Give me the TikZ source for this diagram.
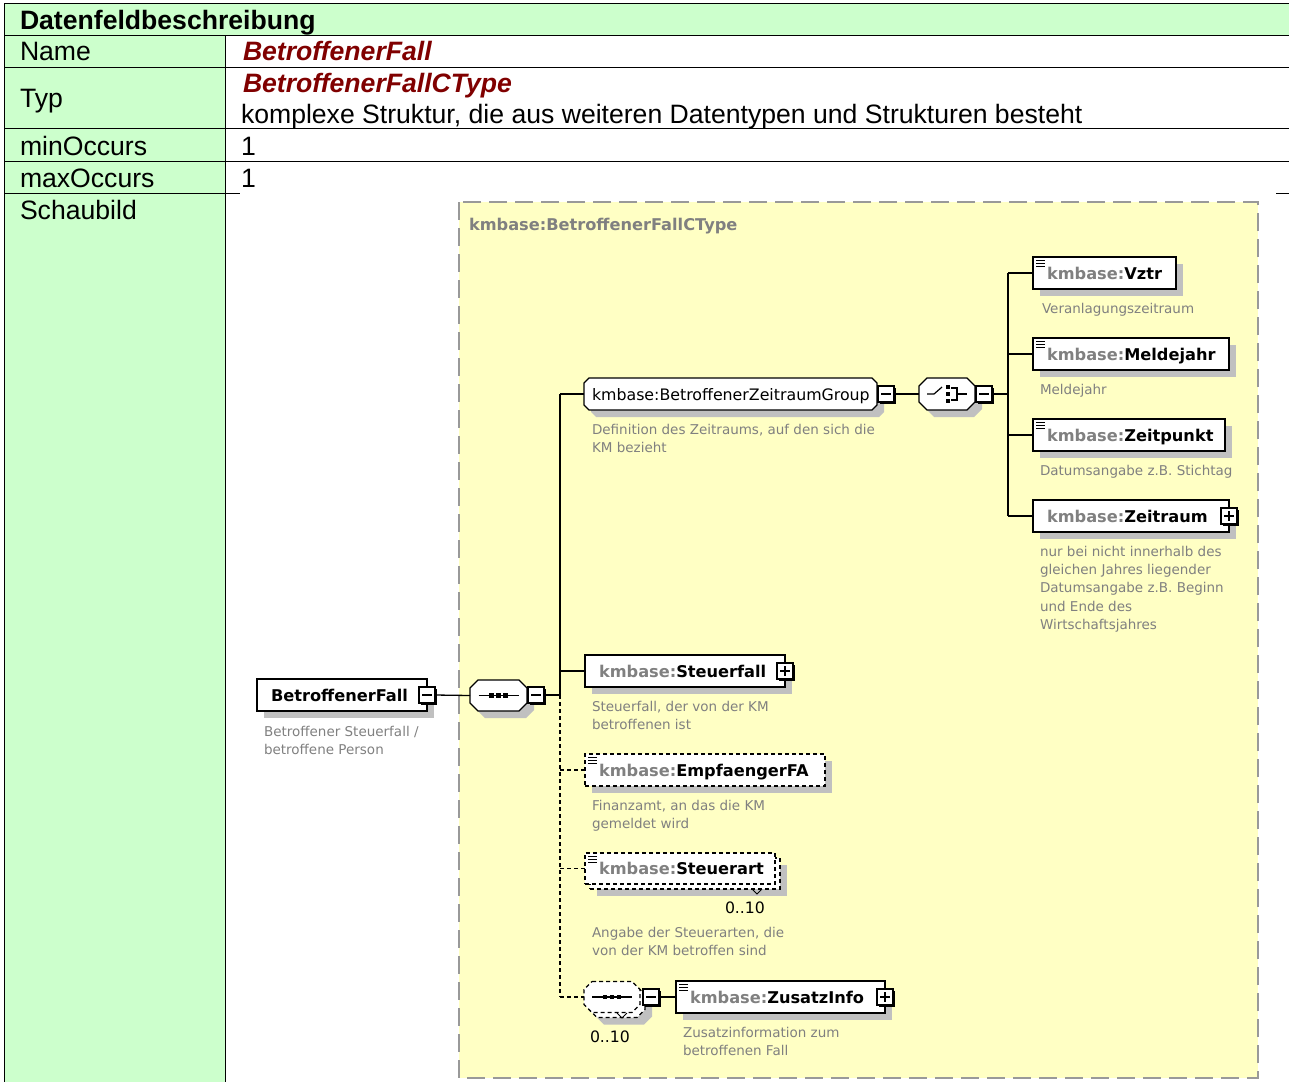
\documentclass[tikz,border=0pt]{standalone}
\usepackage{fontspec}
\setmainfont{Liberation Sans}
\newfontfamily\xsfont{DejaVu Sans}
\definecolor{tgreen}{HTML}{CCFFCC}
\definecolor{tyellow}{HTML}{FFFFC4}
\definecolor{tred}{HTML}{800000}
\definecolor{tgray}{HTML}{808080}
\definecolor{tshadow}{HTML}{C0C0C0}
\definecolor{tborder}{HTML}{999999}
\tikzset{
  every node/.style={inner sep=0pt, outer sep=0pt},
  tabtxt/.style={anchor=base west, font=\fontsize{26.6}{30}\selectfont},
  tabval/.style={anchor=base west, text=tred, font=\fontsize{26.6}{30}\selectfont\bfseries\itshape},
  boxshadow/.style={preaction={fill=tshadow, draw=none, transform canvas={shift={(7pt,-7pt)}}}},
  ebase/.style={rectangle, draw=black, fill=white, line width=1.3pt, minimum height=32pt, anchor=north west},
  elem/.style={ebase, boxshadow},
  optelem/.style={ebase, boxshadow, dash pattern=on 4pt off 3pt},
  optflat/.style={ebase, dash pattern=on 4pt off 3pt},
  elabel/.style={anchor=base west, font=\xsfont\bfseries\fontsize{16.2}{19}\selectfont},
  desc/.style={anchor=north west, align=left, text=tgray, font=\xsfont\fontsize{13.5}{18.3}\selectfont},
  occ/.style={anchor=base west, font=\xsfont\fontsize{15.7}{19}\selectfont},
  pmbox/.style={rectangle, draw=black, fill=white, line width=1.2pt, minimum size=16pt,
    preaction={fill=black, draw=none, transform canvas={shift={(1.5pt,-1.5pt)}}}},
  minusbox/.style={pmbox, path picture={\draw[line width=1.2pt] ([xshift=3pt]path picture bounding box.west) -- ([xshift=-3pt]path picture bounding box.east);}},
  plusbox/.style={pmbox, path picture={\draw[line width=1.2pt] ([xshift=3pt]path picture bounding box.west) -- ([xshift=-3pt]path picture bounding box.east); \draw[line width=1.2pt] ([yshift=-3pt]path picture bounding box.north) -- ([yshift=3pt]path picture bounding box.south);}},
  compframe/.style={rectangle, minimum width=57pt, minimum height=31pt},
  octline/.style={draw=black, fill=white, line width=1.3pt},
  conn/.style={line width=1.3pt},
  oconn/.style={line width=1.3pt, dash pattern=on 4pt off 3pt},
  sym/.style={line width=1.2pt},
}
\newcommand\mkelem[5]{%
  \node[#4, minimum width=#3] (#1) at (#2) {};
  \node[elabel] (#1-l) at ([xshift=14pt,yshift=-6pt]#1.west) {#5};
}
\newcommand\mkicon[1]{%
  \foreach \k in {3,6,9} \draw[line width=0.9pt] ([xshift=3pt,yshift=-\k pt]#1.north west) -- ++(9,0);
}
\newcommand\octdraw[3]{%
  \draw[#3] ([xshift=#2]#1.north west) -- ([xshift=-#2]#1.north east) -- ([yshift=-#2]#1.north east)
    -- ([yshift=#2]#1.south east) -- ([xshift=-#2]#1.south east) -- ([xshift=#2]#1.south west)
    -- ([yshift=#2]#1.south west) -- ([yshift=-#2]#1.north west) -- cycle;
}
\newcommand\kmb{\textcolor{tgray}{kmbase:}}
\newcommand\seqsym[1]{%
  \draw[sym] ([xshift=-20pt]#1.center) -- ([xshift=20pt]#1.center);
  \foreach \d in {-7,0,7} \fill ([xshift=\d pt]#1.center) +(-2.2,-2.2) rectangle +(2.2,2.2);
}
\begin{document}
\begin{tikzpicture}[x=1pt,y=-1pt]
\useasboundingbox (0,0) rectangle (1289,1082);
% ---------- table ----------
\fill[tgreen] (4,3) rectangle (1289,35);
\fill[tgreen] (4,35) rectangle (225,1082);
\draw[line width=1pt] (4,3) -- (1289,3);
\draw[line width=1pt] (4,35) -- (1289,35);
\draw[line width=1pt] (4,67) -- (1289,67);
\draw[line width=1pt] (4,128) -- (1289,128);
\draw[line width=1pt] (4,161) -- (1289,161);
\draw[line width=1pt] (4,193) -- (240,193);
\draw[line width=1pt] (1276,193) -- (1289,193);
\draw[line width=1pt] (4,3) -- (4,1082);
\draw[line width=1pt] (225,35) -- (225,1082);
\node[tabtxt, font=\fontsize{26.6}{30}\selectfont\bfseries] (hdr) at (20,29.5) {Datenfeldbeschreibung};
\node[tabtxt] (lname) at (20,60.5) {Name};
\node[tabval] (vname) at (243,60.5) {BetroffenerFall};
\node[tabtxt] (ltyp) at (20,107.5) {Typ};
\node[tabval] (vtyp) at (243,92) {BetroffenerFallCType};
\node[tabtxt] (vtyp2) at (241,123) {komplexe Struktur, die aus weiteren Datentypen und Strukturen besteht};
\node[tabtxt] (lmin) at (20,155.5) {minOccurs};
\node[tabtxt] (vmin) at (241,155.5) {1};
\node[tabtxt] (lmax) at (20,187.5) {maxOccurs};
\node[tabtxt] (vmax) at (241,187.5) {1};
\node[tabtxt] (lsch) at (20,219.5) {Schaubild};
% ---------- complex type frame ----------
\draw[draw=tborder, fill=tyellow, line width=2pt, dash pattern=on 18pt off 8pt] (459,202) rectangle (1258,1078);
\node[elabel, text=tgray] (ctl) at (469,230) {kmbase:BetroffenerFallCType};
% ---------- root element ----------
\mkelem{bf}{257,679}{170pt}{elem}{BetroffenerFall}
\node[minusbox] (bf-m) at (bf.east) {};
\node[desc] (bf-d) at (264,726) {Betroffener Steuerfall /\\betroffene Person};
% ---------- sequence ----------
\node[compframe] (seq) at (498.5,695.5) {};
\octdraw{seq}{8pt}{octline, boxshadow}
\seqsym{seq}
\node[minusbox] (seq-m) at (536,695) {};
\coordinate (tr) at (560,695);
% ---------- group ----------
\node[compframe, minimum width=293pt, minimum height=32pt] (grp) at (730.5,394) {};
\octdraw{grp}{5pt}{octline, boxshadow}
\node[anchor=base west, font=\xsfont\fontsize{15.8}{19}\selectfont] (grp-l) at ([xshift=8pt,yshift=-6pt]grp.west) {kmbase:BetroffenerZeitraumGroup};
\node[minusbox] (grp-m) at (886,394) {};
\node[desc] (grp-d) at (592,424) {Definition des Zeitraums, auf den sich die\\KM bezieht};
% ---------- choice ----------
\node[compframe, minimum width=56pt, minimum height=32pt] (cho) at (947,394) {};
\octdraw{cho}{8pt}{octline, boxshadow}
\draw[sym] ([xshift=-20pt]cho.center) -- ([xshift=-13pt]cho.center) -- ([xshift=-5pt,yshift=7pt]cho.center);
\foreach \d in {-7,0,7} \fill ([xshift=1pt,yshift=\d pt]cho.center) +(-2.2,-2.2) rectangle +(2.2,2.2);
\draw[sym] ([xshift=4pt,yshift=6pt]cho.center) -- ([xshift=10pt,yshift=6pt]cho.center) -- ([xshift=10pt,yshift=-6pt]cho.center) -- ([xshift=4pt,yshift=-6pt]cho.center);
\draw[sym] ([xshift=10pt]cho.center) -- ([xshift=20pt]cho.center);
\node[minusbox] (cho-m) at (984,394) {};
\coordinate (ct) at (1008,394);
% ---------- choice children ----------
\mkelem{vz}{1033,257}{143pt}{elem}{\kmb Vztr}
\mkicon{vz}
\node[desc] (vz-d) at (1042,303) {Veranlagungszeitraum};
\mkelem{mj}{1033,338}{196pt}{elem}{\kmb Meldejahr}
\mkicon{mj}
\node[desc] (mj-d) at (1040,384) {Meldejahr};
\mkelem{zp}{1033,419}{192pt}{elem}{\kmb Zeitpunkt}
\mkicon{zp}
\node[desc] (zp-d) at (1040,465) {Datumsangabe z.B. Stichtag};
\mkelem{zr}{1033,500}{196pt}{elem}{\kmb Zeitraum}
\node[plusbox] (zr-p) at (zr.east) {};
\node[desc] (zr-d) at (1040,546) {nur bei nicht innerhalb des\\gleichen Jahres liegender\\Datumsangabe z.B. Beginn\\und Ende des\\Wirtschaftsjahres};
% ---------- sequence children ----------
\mkelem{sf}{585,655}{200pt}{elem}{\kmb Steuerfall}
\node[plusbox] (sf-p) at (sf.east) {};
\node[desc] (sf-d) at (592,701) {Steuerfall, der von der KM\\betroffenen ist};
\mkelem{ef}{585,754}{240pt}{optelem}{\kmb EmpfaengerFA}
\mkicon{ef}
\node[desc] (ef-d) at (592,800) {Finanzamt, an das die KM\\gemeldet wird};
\node[optelem, minimum width=190pt, minimum height=31pt] (sa-b) at (590,858) {};
\mkelem{sa}{585,853}{190pt}{optflat, minimum height=31pt}{\kmb Steuerart}
\mkicon{sa}
\draw[line width=0.8pt] (752,889) -- (757,894) -- (762,889);
\node[occ] (sa-o) at (725,913) {0..10};
\node[desc] (sa-d) at (592,927) {Angabe der Steuerarten, die\\von der KM betroffen sind};
% optional repeated sequence
\node[compframe, minimum width=56pt] (zs-b) at (617,1002) {};
\octdraw{zs-b}{8pt}{octline, boxshadow, dash pattern=on 4pt off 3pt}
\node[compframe, minimum width=56pt] (zs) at (612,997) {};
\octdraw{zs}{8pt}{octline, dash pattern=on 4pt off 3pt}
\seqsym{zs}
\draw[line width=0.8pt] (617,1013) -- (622,1018) -- (627,1013);
\node[minusbox] (zs-m) at (651,997) {};
\node[occ] (zs-o) at (590,1042) {0..10};
\mkelem{zi}{676,981}{209pt}{elem}{\kmb ZusatzInfo}
\mkicon{zi}
\node[plusbox] (zi-p) at (zi.east) {};
\node[desc] (zi-d) at (683,1027) {Zusatzinformation zum\\betroffenen Fall};
% ---------- connectors ----------
\draw[conn] (bf-m.east) -- (seq.west);
\draw[conn] (seq-m.east) -- (tr);
\draw[conn] (grp.west -| tr) -- (tr);
\draw[oconn] (tr) -- (zs.west -| tr);
\draw[conn] (grp.west -| tr) -- (grp.west);
\draw[conn] (sf.west -| tr) -- (sf.west);
\draw[oconn] (ef.west -| tr) -- (ef.west);
\draw[oconn] (sa.west -| tr) -- (sa.west);
\draw[oconn] (zs.west -| tr) -- (zs.west);
\draw[conn] (grp-m.east) -- (cho.west);
\draw[conn] (cho-m.east) -- (ct);
\draw[conn] (vz.west -| ct) -- (zr.west -| ct);
\foreach \n in {vz,mj,zp,zr} \draw[conn] (\n.west -| ct) -- (\n.west);
\draw[conn] (zs-m.east) -- (zi.west);
\end{tikzpicture}
\end{document}
